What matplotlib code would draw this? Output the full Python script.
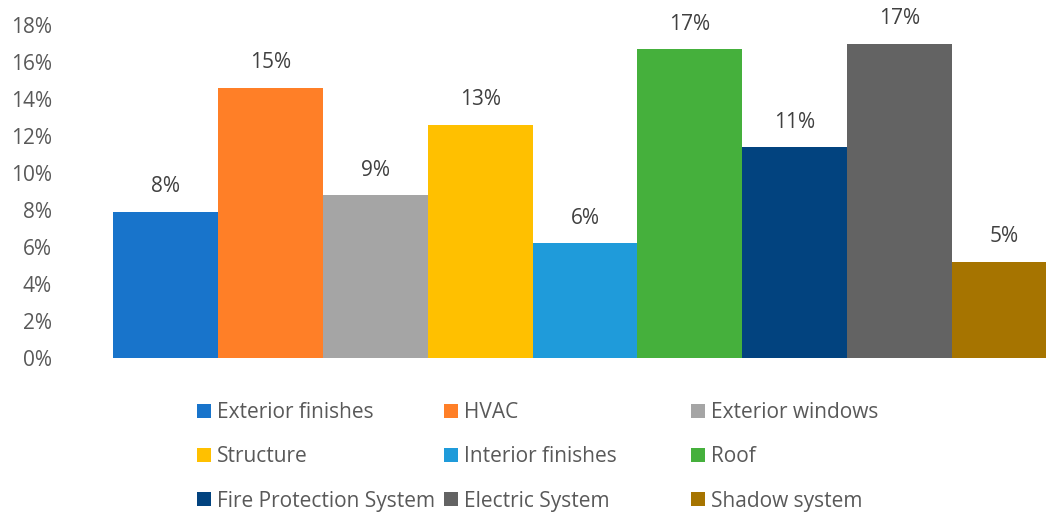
import matplotlib
matplotlib.use("Agg")
import matplotlib.pyplot as plt
from matplotlib.patches import Patch

# cost share by building system
categories = ["Exterior finishes", "HVAC", "Exterior windows", "Structure",
              "Interior finishes", "Roof", "Fire Protection System",
              "Electric System", "Shadow system"]
shares = [0.079, 0.146, 0.088, 0.126, 0.062, 0.167, 0.114, 0.170, 0.052]
colors = ["#1874CB", "#FF7F27", "#A5A5A5", "#FFC000", "#1F9BDA",
          "#45B03C", "#02437F", "#636363", "#A67400"]
yticks = [0, 0.02, 0.04, 0.06, 0.08, 0.10, 0.12, 0.14, 0.16, 0.18]

plt.rcParams['font.family'] = ['Open Sans', 'DejaVu Sans']
FS = 15

W, H = 1046, 513
fig = plt.figure(figsize=(W / 100, H / 100), dpi=100)
# plot area runs past the right edge, so the last bar is cut
ax = fig.add_axes([113 / W, 1 - 358 / H, (1057 - 113) / W, (358 - 25) / H])

x = list(range(len(categories)))
bars = ax.bar(x, shares, width=1.0, color=colors, linewidth=0)

for xi, v in zip(x, shares):
    ax.annotate(f"{v:.0%}", (xi, v), xytext=(0, 25), textcoords="offset pixels",
                ha="center", va="center", fontsize=FS, color="#404040")

ax.set_xlim(-0.5, len(categories) - 0.5)
ax.set_ylim(0, 0.18)
ax.set_yticks(yticks)
ax.set_yticklabels([f"{t:.0%}" for t in yticks], fontsize=FS, color="#595959")
ax.tick_params(axis="y", length=0, pad=44)
ax.set_xticks([])
for s in ax.spines.values():
    s.set_visible(False)

# three equal-width legend columns, filled row by row
col_x = [197, 444, 691]
for c in range(3):
    idx = [c, c + 3, c + 6]
    handles = [Patch(facecolor=colors[i], edgecolor="none") for i in idx]
    fig.legend(handles, [categories[i] for i in idx],
               loc="upper left", bbox_to_anchor=(col_x[c] / W, 1 - 402 / H),
               frameon=False, fontsize=FS, labelcolor="#595959",
               handlelength=0.67, handleheight=0.67, handletextpad=0.3,
               labelspacing=1.12, borderpad=0, borderaxespad=0)

fig.savefig("out.png", dpi=100)
